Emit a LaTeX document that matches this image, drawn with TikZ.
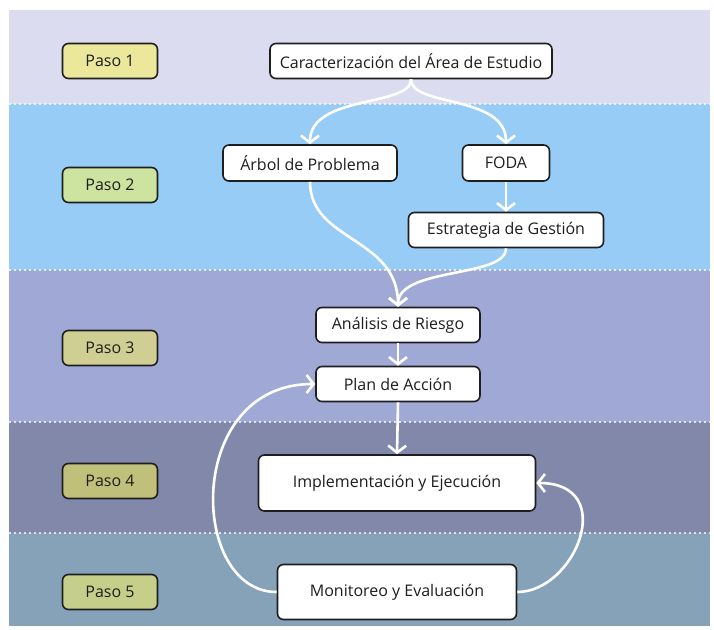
\documentclass[tikz,border=0pt]{standalone}
\usepackage{fontspec}
\setmainfont{Open Sans}
\usetikzlibrary{arrows.meta}
\definecolor{bandA}{RGB}{220,220,240}
\definecolor{bandB}{RGB}{150,204,245}
\definecolor{bandC}{RGB}{160,168,214}
\definecolor{bandD}{RGB}{130,136,170}
\definecolor{bandE}{RGB}{134,162,185}
\definecolor{pasoA}{RGB}{235,232,156}
\definecolor{pasoB}{RGB}{205,227,160}
\definecolor{pasoC}{RGB}{207,207,147}
\definecolor{pasoD}{RGB}{193,192,123}
\definecolor{pasoE}{RGB}{197,207,138}
\definecolor{ink}{RGB}{30,30,30}
\tikzset{
  box/.style={draw=ink, line width=1.6pt, fill=white, rounded corners=6pt,
    font=\fontsize{16}{18}\selectfont, text=ink, inner sep=0pt},
  pasobox/.style={box, minimum width=95pt, minimum height=35pt},
  flow/.style={draw=white, line width=2.6pt, -{Straight Barb[length=7pt,width=18pt]}},
  sep/.style={white, line width=2.3pt, dash pattern=on 0pt off 5pt, line cap=round}
}
\begin{document}
\begin{tikzpicture}[x=1pt,y=-1pt]
\useasboundingbox (0,0) rectangle (714,629);
\fill[bandA] (9,10) rectangle (710,104);
\fill[bandB] (9,104) rectangle (710,270);
\fill[bandC] (9,270) rectangle (710,422);
\fill[bandD] (9,422) rectangle (710,533);
\fill[bandE] (9,533) rectangle (710,626);
\draw[sep] (10,104) -- (710,104);
\draw[sep] (10,270) -- (710,270);
\draw[sep] (10,422) -- (710,422);
\draw[sep] (10,533) -- (710,533);

\node[pasobox, fill=pasoA] (p1) at (110,61) {Paso 1};
\node[pasobox, fill=pasoB] (p2) at (110,185) {Paso 2};
\node[pasobox, fill=pasoC] (p3) at (110,348) {Paso 3};
\node[pasobox, fill=pasoD] (p4) at (110,481) {Paso 4};
\node[pasobox, fill=pasoE] (p5) at (110,592) {Paso 5};

\node[box, minimum width=282pt, minimum height=35pt] (car) at (411,61) {Caracterización del Área de Estudio};
\node[box, minimum width=174pt, minimum height=36pt] (arb) at (310,163) {Árbol de Problema};
\node[box, minimum width=87pt, minimum height=36pt] (foda) at (506,163) {FODA};
\node[box, minimum width=195pt, minimum height=35pt] (est) at (506,230) {Estrategia de Gestión};
\node[box, minimum width=164pt, minimum height=35pt] (ana) at (398,325) {Análisis de Riesgo};
\node[box, minimum width=164pt, minimum height=35pt] (plan) at (398,384) {Plan de Acción};
\node[box, minimum width=277pt, minimum height=56pt] (imp) at (397,483) {Implementación y Ejecución};
\node[box, minimum width=239pt, minimum height=55pt] (mon) at (397,592) {Monitoreo y Evaluación};

\draw[flow] (car.south) .. controls +(0,28) and +(0,-50) .. (arb.north);
\draw[flow] (car.south) .. controls +(0,28) and +(0,-50) .. (foda.north);
\draw[flow] (foda.south) -- (est.north);
\draw[flow] (arb.south) .. controls +(0,60) and +(0,-70) .. (ana.north);
\draw[flow] (est.south) .. controls +(0,30) and +(0,-40) .. (ana.north);
\draw[flow] (ana.south) -- (plan.north);
\draw[flow] (plan.south) -- (imp.north);
\draw[flow] (mon.west) .. controls +(-88,0) and +(-131,0) .. (plan.west);
\draw[flow] (mon.east) .. controls +(58,0) and +(83,0) .. (imp.east);
\end{tikzpicture}
\end{document}
